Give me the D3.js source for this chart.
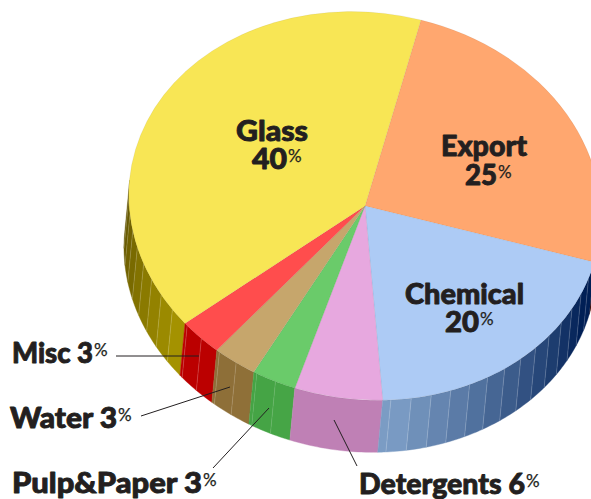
<!DOCTYPE html>
<html><head><meta charset="utf-8">
<script src="https://cdn.jsdelivr.net/npm/d3@7/dist/d3.min.js"></script>
<style>html,body{margin:0;padding:0;background:#fff}svg{display:block}
text{font-family:Lato,sans-serif;font-weight:900;fill:#231f20}
.nm{stroke:#231f20;stroke-width:.9;stroke-linejoin:round}
.pct{font-weight:400;stroke:#231f20;stroke-width:.25}</style></head><body><svg id="c" width="591" height="499"></svg>
<script>
const categories=["Export","Chemical","Detergents","Pulp & Paper","Water","Misc","Glass"];
const shares=[25,20,6,3,3,3,40];
const topColors=["#ffa76f","#adcbf5","#e7a8df","#6acb6a","#c6a66c","#ff4d4d","#f8e655"];
const wallNear=["#5a1800","#7b9cc4","#bf80b5","#46a546","#8f7038","#bb0000","#a89600"];
const wallFar=["#3a0a00","#001f55","#bf80b5","#3d9c3d","#8a6a35","#bb0000","#5c4e00"];
const stripeOpacity=[.2,.22,0,.14,.18,.22,.22];

// layout of inside labels: [category index, name x0, name x1, name baseline, number x0, number x1, number baseline]
const insideLayout=[[0,441,527,156,465,497,185],[1,405,524,304,445,479,332],[6,236,308,141,252,287,169]];
// layout of outer labels: [category index, x0, x1, baseline, leader x1,y1,x2,y2]
const outerLayout=[[5,12,93,363,116,356,199,356],[4,10,117,428,141,416,230,387],[3,12,202,493,213,468,269,408],[2,359,525,494,357,466,334,420]];

const cx=365,cy=206,rx=236,ry=194,skew=.045,dx=-5,dy=52,startDeg=13.7,facetDeg=5,leftEnd=274.5,rightEnd=94.5;

const svg=d3.select("#c");
const rad=d=>d*Math.PI/180, deg=r=>r*180/Math.PI;
const pie=d3.pie().sort(null).startAngle(rad(startDeg)).endAngle(rad(startDeg+360));
const arcs=pie(shares);
const px=a=>rx*Math.sin(a), py=a=>-ry*Math.cos(a)+skew*rx*Math.sin(a);
const line=d3.line();

// side wall facets
const facets=[];
arcs.forEach((s,i)=>{
  const a0=Math.max(deg(s.startAngle),rightEnd), a1=Math.min(deg(s.endAngle),leftEnd);
  if(a1<=a0) return;
  const t=d3.scaleLinear().domain([0,1]).range([wallNear[i],wallFar[i]]);
  const full=i===1?[172,112]:[deg(s.startAngle),leftEnd];
  const k=d3.scaleLinear().domain(full).range([0,1]).clamp(true);
  const step=stripeOpacity[i]===0?a1-a0:facetDeg;
  for(let a=a0;a<a1-1e-6;a+=step){
    const b=Math.min(a+step,a1);
    facets.push({a,b,color:t(k((a+b)/2)),i,first:a===a0});
  }
});
facets.sort((p,q)=>Math.abs((q.a+q.b)/2-180)-Math.abs((p.a+p.b)/2-180));
const g=svg.append("g").attr("transform",`translate(${cx},${cy})`);
g.selectAll("path.f").data(facets).join("path").attr("class","f")
 .attr("fill",d=>d.color).attr("stroke",d=>d.color).attr("stroke-width",.4)
 .attr("d",d=>{
   const m=Math.max(6,Math.ceil(d.b-d.a));
   const n=d3.range(0,m+1).map(j=>rad(d.a+(d.b-d.a)*j/m));
   const pts=n.map(a=>[px(a),py(a)]).concat(n.slice().reverse().map(a=>[px(a)+dx,py(a)+dy]));
   return line(pts)+"Z";
 });
g.selectAll("line.s").data(facets.filter(d=>!d.first)).join("line").attr("class","s")
 .attr("x1",d=>px(rad(d.a))).attr("y1",d=>py(rad(d.a)))
 .attr("x2",d=>px(rad(d.a))+dx).attr("y2",d=>py(rad(d.a))+dy)
 .attr("stroke","#fff").attr("stroke-opacity",d=>stripeOpacity[d.i]).attr("stroke-width",.8);

// top face
const arc=d3.arc().innerRadius(0).outerRadius(1);
svg.append("g").attr("transform",`matrix(${rx},${skew*rx},0,${ry},${cx},${cy})`).selectAll("path").data(arcs).join("path")
 .attr("d",arc).attr("fill",(d,i)=>topColors[i])
 .attr("stroke","#000").attr("stroke-opacity",.1).attr("stroke-width",.5).attr("vector-effect","non-scaling-stroke");

const fit=(sel,x0,x1,y)=>sel.attr("class","nm").attr("x",x0).attr("y",y).attr("font-size",29)
  .attr("textLength",x1-x0).attr("lengthAdjust","spacingAndGlyphs");
const pct=(x,y)=>svg.append("text").attr("class","pct").attr("x",x).attr("y",y-7).attr("font-size",17).text("%");

insideLayout.forEach(([i,a,b,y,c,d,y2])=>{
  fit(svg.append("text").text(categories[i]),a,b,y);
  fit(svg.append("text").text(shares[i]),c,d,y2);
  pct(d+1,y2);
});
outerLayout.forEach(([i,a,b,y,x1,y1,x2,y2])=>{
  svg.append("line").attr("x1",x1).attr("y1",y1).attr("x2",x2).attr("y2",y2)
    .attr("stroke","#231f20").attr("stroke-width",1);
  fit(svg.append("text").text(categories[i].replace(" & ","&")+" "+shares[i]),a,b,y);
  pct(b+1,y);
});
</script></body></html>
